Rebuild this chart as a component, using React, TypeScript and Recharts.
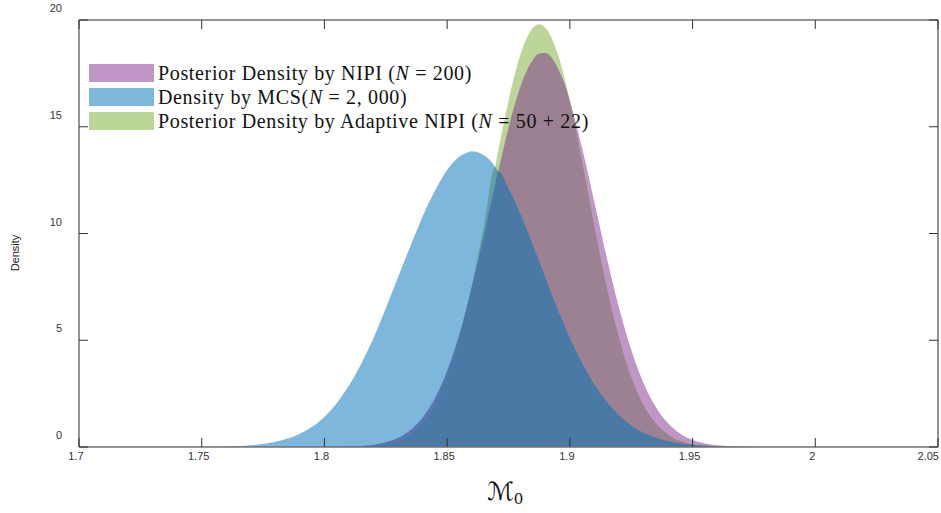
import React from 'react';
import { AreaChart, Area, XAxis, YAxis } from 'recharts';

// x grid (M_0 values)
const xValues = [
  1.75, 1.755, 1.76, 1.765, 1.77, 1.775, 1.78, 1.785, 1.79, 1.795,
  1.8, 1.805, 1.81, 1.815, 1.82, 1.825, 1.83, 1.835, 1.84, 1.845,
  1.85, 1.855, 1.8578, 1.86, 1.865, 1.8696, 1.87, 1.8708, 1.875, 1.88,
  1.885, 1.8875, 1.89, 1.895, 1.9, 1.905, 1.91, 1.915, 1.92, 1.925,
  1.93, 1.935, 1.94, 1.945, 1.95, 1.955, 1.96, 1.965, 1.97, 1.975, 1.98,
];

// Posterior Density by NIPI (N = 200)
const nipiDensity = [
  0, 0, 0, 0, 0, 0, 0, 0, 0, 0,
  0.004, 0.01, 0.022, 0.049, 0.107, 0.22, 0.43, 0.79, 1.38, 2.28,
  3.57, 5.29, 6.44, 7.44, 9.91, 12.29, 12.5, 12.9, 14.94, 16.92,
  18.15, 18.43, 18.45, 17.76, 16.2, 14.0, 11.46, 8.89, 6.53, 4.55,
  3.0, 1.87, 1.11, 0.62, 0.33, 0.166, 0.079, 0.036, 0.015, 0.006, 0.002,
];

// Density by MCS (N = 2,000)
const mcsDensity = [
  0.01, 0.013, 0.025, 0.047, 0.083, 0.144, 0.242, 0.394, 0.62, 0.95,
  1.41, 2.05, 2.88, 3.9, 5.1, 6.5, 7.95, 9.4, 10.8, 12.0,
  12.98, 13.6, 13.77, 13.85, 13.66, 13.12, 13.05, 12.9, 12.1, 10.85,
  9.42, 8.68, 7.92, 6.45, 5.1, 3.92, 2.92, 2.12, 1.49, 1.01,
  0.67, 0.43, 0.27, 0.16, 0.093, 0.053, 0.029, 0.015, 0.008, 0.004, 0.002,
];

// Posterior Density by Adaptive NIPI (N = 50 + 22)
const adaptiveDensity = [
  0, 0, 0, 0, 0, 0, 0, 0, 0, 0,
  0, 0, 0.009, 0.024, 0.059, 0.136, 0.29, 0.59, 1.12, 1.98,
  3.3, 5.15, 6.43, 7.55, 10.38, 13.12, 13.4, 13.87, 16.22, 18.43,
  19.64, 19.8, 19.64, 18.43, 16.22, 13.4, 10.38, 7.55, 5.15, 3.3,
  1.98, 1.12, 0.59, 0.29, 0.136, 0.059, 0.024, 0.009, 0.003, 0, 0,
];

const xTicks = [1.7, 1.75, 1.8, 1.85, 1.9, 1.95, 2, 2.05];
const yTicks = [0, 5, 10, 15, 20];

const COLORS = {
  nipi: '#c096c7',
  mcs: '#7eb7dc',
  adaptive: '#bcd598',
  nipiAdaptive: '#9c8193',
  mcsAdaptive: '#5fa1a3',
  mcsNipi: '#5a77b4',
  all: '#4b79a5',
};

const rows = xValues.map((x, i) => {
  const p = nipiDensity[i];
  const b = mcsDensity[i];
  const g = adaptiveDensity[i];
  return {
    x,
    p,
    g,
    b,
    pg: Math.min(p, g),
    bg: Math.min(b, g),
    bp: Math.min(b, p),
    bpg: Math.min(b, p, g),
  };
});

const TICK_FONT = '"Liberation Sans", Arial, sans-serif';
const TICK_LEN = 9;
const LAST_X = xTicks[xTicks.length - 1];

const BottomTick = (props: any) => {
  const { x, y, payload } = props;
  const isLast = payload.value === LAST_X;
  return (
    <g>
      <line x1={x} x2={x} y1={y} y2={y - TICK_LEN} stroke="#333" strokeWidth={1} />
      <text
        x={isLast ? x + 1 : x - 3}
        y={y + 13}
        textAnchor={isLast ? 'end' : 'middle'}
        fontSize={11}
        fill="#333"
        fontFamily={TICK_FONT}
      >
        {String(payload.value)}
      </text>
    </g>
  );
};

const TopTick = (props: any) => {
  const { x, y } = props;
  return <line x1={x} x2={x} y1={y} y2={y + TICK_LEN} stroke="#333" strokeWidth={1} />;
};

const LeftTick = (props: any) => {
  const { x, y, payload } = props;
  return (
    <g>
      <line x1={x} x2={x + TICK_LEN} y1={y} y2={y} stroke="#333" strokeWidth={1} />
      <text x={x - 17} y={y - 8} textAnchor="end" fontSize={11} fill="#333" fontFamily={TICK_FONT}>
        {String(payload.value)}
      </text>
    </g>
  );
};

const RightTick = (props: any) => {
  const { x, y } = props;
  return <line x1={x} x2={x - TICK_LEN} y1={y} y2={y} stroke="#333" strokeWidth={1} />;
};

const legendItems = [
  { color: COLORS.nipi, label: <>Posterior Density by NIPI (<i>N</i> = 200)</> },
  { color: COLORS.mcs, label: <>Density by MCS(<i>N</i> = 2, 000)</> },
  { color: COLORS.adaptive, label: <>Posterior Density by Adaptive NIPI (<i>N</i> = 50 + 22)</> },
];

const areaLayers: { key: string; color: string }[] = [
  { key: 'p', color: COLORS.nipi },
  { key: 'g', color: COLORS.adaptive },
  { key: 'pg', color: COLORS.nipiAdaptive },
  { key: 'b', color: COLORS.mcs },
  { key: 'bg', color: COLORS.mcsAdaptive },
  { key: 'bp', color: COLORS.mcsNipi },
  { key: 'bpg', color: COLORS.all },
];

const axisLine = { stroke: '#707070', strokeWidth: 1.5 };

export default function App() {
  return (
    <div style={{ position: 'absolute', left: 0, top: 0, width: 941, height: 513, background: '#fff' }}>
      <AreaChart
        width={941}
        height={513}
        data={rows}
        margin={{ top: 19, right: 2, bottom: 46, left: 59 }}
      >
        {areaLayers.map((l) => (
          <Area
            key={l.key}
            type="monotone"
            dataKey={l.key}
            xAxisId="bottom"
            yAxisId="left"
            stroke="none"
            fill={l.color}
            fillOpacity={1}
            isAnimationActive={false}
            dot={false}
            activeDot={false}
          />
        ))}
        <XAxis
          xAxisId="bottom"
          dataKey="x"
          type="number"
          domain={[1.7, 2.05]}
          ticks={xTicks}
          interval={0}
          height={20}
          tickSize={0}
          tickMargin={0}
          tickLine={false}
          axisLine={axisLine}
          tick={<BottomTick />}
          allowDataOverflow
        />
        <XAxis
          xAxisId="top"
          orientation="top"
          dataKey="x"
          type="number"
          domain={[1.7, 2.05]}
          ticks={xTicks}
          interval={0}
          height={1}
          tickSize={0}
          tickMargin={0}
          tickLine={false}
          axisLine={axisLine}
          tick={<TopTick />}
          allowDataOverflow
        />
        <YAxis
          yAxisId="left"
          type="number"
          domain={[0, 20]}
          ticks={yTicks}
          interval={0}
          width={20}
          tickSize={0}
          tickMargin={0}
          tickLine={false}
          axisLine={axisLine}
          tick={<LeftTick />}
          allowDataOverflow
        />
        <YAxis
          yAxisId="right"
          orientation="right"
          type="number"
          domain={[0, 20]}
          ticks={yTicks}
          interval={0}
          width={1}
          tickSize={0}
          tickMargin={0}
          tickLine={false}
          axisLine={axisLine}
          tick={<RightTick />}
          allowDataOverflow
        />
      </AreaChart>

      <svg
        width={941}
        height={513}
        style={{ position: 'absolute', left: 0, top: 0, pointerEvents: 'none' }}
      >
        <text
          transform="translate(19,253) rotate(-90)"
          textAnchor="middle"
          fontSize={11}
          fill="#222"
          fontFamily={TICK_FONT}
        >
          Density
        </text>
        <text x={487} y={500} fontSize={25} fill="#111" fontFamily='"DejaVu Serif", "DejaVu Sans", serif' fontStyle="italic">
          ℳ
          <tspan fontSize={15} dy={4} fontStyle="normal">0</tspan>
        </text>
      </svg>

      <div style={{ position: 'absolute', left: 89, top: 64, pointerEvents: 'none' }}>
        {legendItems.map((it, i) => (
          <div key={i} style={{ display: 'flex', alignItems: 'center', height: 18, marginBottom: 6 }}>
            <div style={{ width: 65, height: 18, background: it.color, flex: 'none' }} />
            <div
              style={{
                marginLeft: 4,
                fontFamily: '"Liberation Serif", "Times New Roman", serif',
                fontSize: 20,
                letterSpacing: '0.65px',
                lineHeight: '18px',
                color: '#111',
                whiteSpace: 'nowrap',
              }}
            >
              {it.label}
            </div>
          </div>
        ))}
      </div>
    </div>
  );
}
